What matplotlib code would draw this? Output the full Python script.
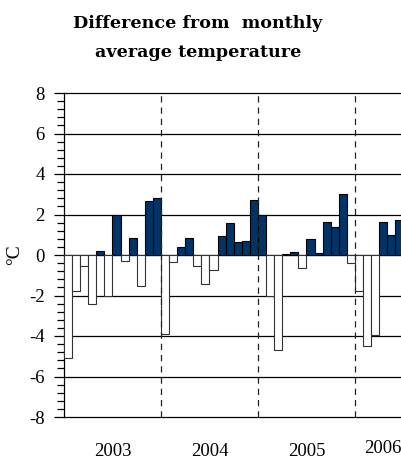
import numpy as np
import matplotlib.pyplot as plt
from matplotlib.ticker import MultipleLocator

# monthly anomaly, Jan 2003 .. Jun 2006 (deg C)
anom_2003 = [-5.1, -1.8, -0.54, -2.4, 0.21, -2.04, 2.0, -0.28, 0.82, -1.55, 2.67, 2.8]
anom_2004 = [-3.92, -0.33, 0.38, 0.86, -0.56, -1.42, -0.74, 0.94, 1.6, 0.63, 0.67, 2.7]
anom_2005 = [2.0, -2.02, -4.7, 0.03, 0.16, -0.66, 0.81, 0.08, 1.61, 1.4, 3.0, -0.41]
anom_2006 = [-1.8, -4.49, -3.95, 1.61, 1.0, 1.71]

years = ["2003", "2004", "2005", "2006"]
year_label_x = [6, 18, 30, 39.4]
year_label_y = [-0.105, -0.105, -0.105, -0.097]

values = np.array(anom_2003 + anom_2004 + anom_2005 + anom_2006)
months = np.arange(len(values)) + 0.5

serif = ["Liberation Serif", "DejaVu Serif"]
plt.rcParams['font.family'] = serif

fig = plt.figure(figsize=(4.01, 4.62), dpi=100)
ax = fig.add_axes([64 / 401, 45 / 462, 1 - 64 / 401, 324 / 462])

pos = values >= 0
ax.bar(months[pos], values[pos], width=1.0, color="#003366",
       edgecolor="black", linewidth=0.8, zorder=3)
ax.bar(months[~pos], values[~pos], width=1.0, color="white",
       edgecolor="#333333", linewidth=0.8, zorder=3)

# year separators
for b in [12, 24, 36]:
    ax.axvline(b, color="#222222", linestyle=(0, (5, 4)), linewidth=0.9, zorder=4)

ax.set_ylim(-8, 8)
ax.set_xlim(0, 41.7)
ax.yaxis.set_major_locator(MultipleLocator(2))
ax.yaxis.set_minor_locator(MultipleLocator(0.4))
ax.set_yticks(np.arange(-8, 9, 2))
ax.set_yticklabels([str(v) for v in range(-8, 9, 2)], fontsize=13.5)
ax.yaxis.grid(True, color="black", linewidth=0.9, zorder=0)
for gl in ax.get_ygridlines():
    gl.set_clip_on(False)
ax.tick_params(axis="y", which="major", length=7, width=0.9, pad=7)
ax.tick_params(axis="y", which="minor", length=5, width=0.9)
ax.set_xticks([])
for s in ["top", "right", "bottom"]:
    ax.spines[s].set_visible(False)
ax.spines["left"].set_linewidth(0.9)
ax.set_axisbelow(True)

ax.set_ylabel("°C", fontsize=14, labelpad=4)

for lab, xx, yy in zip(years, year_label_x, year_label_y):
    ax.text(xx, yy, lab, transform=ax.get_xaxis_transform(), ha="center",
            va="center", fontsize=13.5)

fig.text(198 / 401, 1 - 38 / 462, "Difference from  monthly\naverage temperature",
         ha="center", va="center", fontsize=12.6, fontweight="bold",
         family=["DejaVu Serif"], linespacing=1.85)

fig.savefig("out.png", dpi=100)
